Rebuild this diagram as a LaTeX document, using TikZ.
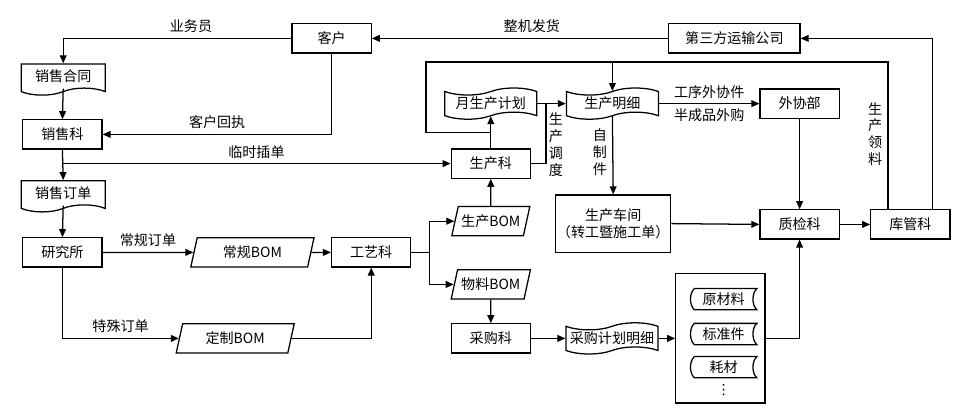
\documentclass[tikz,border=0pt]{standalone}
\usepackage{fontspec}
\setmainfont{Noto Sans CJK SC}
\newfontfamily\fuhao{DejaVu Sans}
\usepackage{tikz}
\usetikzlibrary{arrows.meta, positioning, calc, shapes.geometric, shapes.symbols}

\begin{document}
\begin{tikzpicture}[
    line width=0.9pt,
    kuang/.style={draw, minimum width=1.98cm, minimum height=0.73cm, inner sep=1pt},
    wendang/.style={draw, tape, tape bend top=none, minimum width=2.1cm,
                    minimum height=0.78cm, inner sep=1pt},
    dai/.style={draw, tape, minimum width=2.3cm, minimum height=0.78cm, inner sep=0pt},
    pingxing/.style={draw, trapezium, trapezium left angle=68, trapezium right angle=112,
                     trapezium stretches body=true, minimum height=0.73cm, inner sep=1pt},
    cunchu/.style={minimum width=1.63cm, minimum height=0.5cm, inner sep=0pt,
                   append after command={\pgfextra{
                     \draw ($(\tikzlastnode.north west)+(0.1,0)$) -- (\tikzlastnode.north east)
                       .. controls +(-0.13,-0.12) and +(-0.13,0.12) .. (\tikzlastnode.south east)
                       -- ($(\tikzlastnode.south west)+(0.1,0)$)
                       .. controls +(-0.13,0.12) and +(-0.13,-0.12) .. cycle;}}},
    jiantou/.style={-{Triangle[length=2mm, width=1.7mm]}},
    shuzi/.style={align=center, inner sep=1pt}
  ]
  \useasboundingbox (0,0) rectangle (24.05,-10.33);

  % top row
  \node[kuang] (kehu) at (8.29,-0.96) {客户};
  \node[kuang, minimum width=3.28cm] (yunshu) at (18.36,-0.96) {第三方运输公司};

  % sales column
  \node[wendang] (hetong) at (1.58,-1.9) {销售合同};
  \node[kuang] (xiaoshou) at (1.56,-3.36) {销售科};
  \node[wendang] (dingdan) at (1.58,-4.82) {销售订单};
  \node[kuang] (yanjiu) at (1.56,-6.31) {研究所};

  % BOM
  \node[pingxing, minimum width=3.08cm] (changgui) at (6.31,-6.31) {常规BOM};
  \node[pingxing, minimum width=2.95cm] (dingzhi) at (5.88,-8.46) {定制BOM};
  \node[kuang] (gongyi) at (9.28,-6.31) {工艺科};
  \node[pingxing, minimum width=1.95cm] (scbom) at (12.27,-5.53) {生产BOM};
  \node[pingxing, minimum width=1.98cm] (wlbom) at (12.27,-7.11) {物料BOM};
  \node[kuang] (caigou) at (12.27,-8.46) {采购科};
  \node[dai] (cgmx) at (15.3,-8.46) {采购计划明细};

  % production
  \node[kuang] (shengchan) at (12.27,-4.09) {生产科};
  \node[dai] (yjh) at (12.27,-2.59) {月生产计划};
  \node[dai] (scmx) at (15.31,-2.59) {生产明细};
  \node[kuang] (waixie) at (19.99,-2.59) {外协部};
  \node[kuang, align=center, minimum width=2.75cm, minimum height=1.43cm] (chejian)
       at (15.33,-5.59) {生产车间\\（转工暨施工单）};
  \node[kuang] (zhijian) at (19.99,-5.61) {质检科};
  \node[kuang] (kuguan) at (22.76,-5.61) {库管科};

  % materials
  \node[draw, minimum width=2.23cm, minimum height=3.23cm] (cangku) at (18.01,-8.46) {};
  \node[cunchu] (ycl) at (18.09,-7.48) {原材料};
  \node[cunchu] (bzj) at (18.09,-8.35) {标准件};
  \node[cunchu] (haocai) at (18.09,-9.18) {耗材};
  \node[inner sep=0pt] (gengduo) at (18.09,-9.75) {\fuhao ⋮};

  % connectors
  \draw[jiantou] (kehu.west) -| node[above, pos=0.22] (ywy) {业务员} (hetong.north);
  \draw[jiantou] (hetong.south) -- (xiaoshou.north);
  \draw[jiantou] (kehu.south) |- node[above, pos=0.75] (huizhi) {客户回执} (xiaoshou.east);
  \draw[jiantou] (xiaoshou.south) -- (dingdan.north);
  \coordinate (chadan) at (xiaoshou.south |- shengchan.west);
  \draw[jiantou] (chadan) -- node[above] (chadanzi) {临时插单} (shengchan.west);
  \draw[jiantou] (dingdan.south) -- (yanjiu.north);
  \draw[jiantou] (yanjiu.east) -- node[above] (changguizi) {常规订单} (changgui.west);
  \draw[jiantou] (yanjiu.south) |- node[above, pos=0.75] (teshuzi) {特殊订单} (dingzhi.west);
  \draw[jiantou] (changgui.east) -- (gongyi.west);
  \draw[jiantou] (dingzhi.east) -| (gongyi.south);

  \coordinate (fencha) at ($(gongyi.east)+(0.45,0)$);
  \draw (gongyi.east) -- (fencha);
  \draw[jiantou] (fencha) |- (scbom.west);
  \draw[jiantou] (fencha) |- (wlbom.west);
  \draw[jiantou] (scbom.north) -- (shengchan.south);
  \draw[jiantou] (wlbom.south) -- (caigou.north);
  \draw[jiantou] (caigou.east) -- (cgmx.west);
  \draw[jiantou] (cgmx.east) -- (cangku.west);
  \draw[jiantou] (cangku.east) -| (zhijian.south);

  \draw[jiantou] (shengchan.north) -- (yjh.south);
  \draw[jiantou] (yjh.east) -- coordinate[pos=0.3] (diaodu) (scmx.west);
  \draw (shengchan.east) -| (diaodu);
  \node[shuzi] (diaoduzi) at (13.9,-3.61) {生\\产\\调\\度};
  \draw[jiantou] (scmx.south) -- (chejian.north);
  \node[shuzi] (zizhi) at (15.0,-3.8) {自\\制\\件};
  \draw[jiantou] (scmx.east) -- node[above] (gongxu) {工序外协件}
                                node[below] (banchengpin) {半成品外购} (waixie.west);
  \draw[jiantou] (waixie.south) -- (zhijian.north);
  \draw[jiantou] (chejian.east) -- (zhijian.west);
  \draw[jiantou] (zhijian.east) -- (kuguan.west);

  % loops from stock
  \coordinate (lingliao) at ($(kuguan.north)+(-0.56,0)$);
  \coordinate (fahuo) at ($(kuguan.north)+(0.56,0)$);
  \coordinate (dingxian) at (10.65,-1.55);
  \coordinate (huiliu) at ($(shengchan.north)!0.5!(yjh.south)$);
  \draw (lingliao) |- (dingxian) |- (huiliu);
  \draw[jiantou] (scmx.north |- dingxian) -- (scmx.north);
  \node[shuzi] (lingliaozi) at (21.88,-3.35) {生\\产\\领\\料};
  \draw[jiantou] (fahuo) |- (yunshu.east);
  \draw[jiantou] (yunshu.west) -- node[above, pos=0.46] (zhengji) {整机发货} (kehu.east);
\end{tikzpicture}
\end{document}
